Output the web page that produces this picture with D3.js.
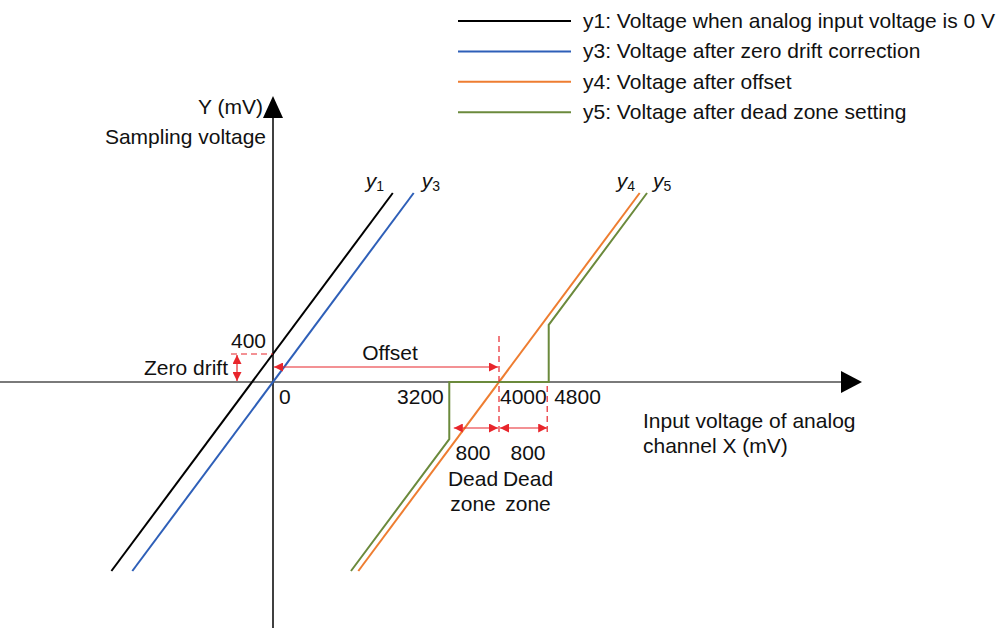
<!DOCTYPE html>
<html><head><meta charset="utf-8">
<script src="https://cdn.jsdelivr.net/npm/d3@7"></script>
<style>body{margin:0;background:#fff}svg{display:block}text{font-family:"Liberation Sans",Arial,sans-serif;fill:#111}</style>
</head><body><svg id="c" width="1002" height="628"></svg>
<script>
// ---- data (mV) ----
const seriesNames = ["y1","y3","y4","y5"];
const legendLabels = [
  "y1: Voltage when analog input voltage is 0 V",
  "y3: Voltage after zero drift correction",
  "y4: Voltage after offset",
  "y5: Voltage after dead zone setting"
];
const colors = ["#000000","#2e5fb8","#ee7d31","#6b8a3c"];
const y1Points = [[-2860,-2700],[2120,2700]];
const y3Points = [[-2490,-2700],[2490,2700]];
const y4Points = [[1510,-2700],[6490,2700]];
const y5Points = [[1380,-2700],[3120,-815],[3120,0],[4880,0],[4880,815],[6620,2700]];
const xTicks = [3200,4000,4800];
const zeroDrift = 400;
const offsetValue = 4000;
const deadZone = 800;

const FS = 21;
const svg = d3.select("#c");
const x = d3.scaleLinear().domain([0,4000]).range([273,499]);
const y = d3.scaleLinear().domain([0,400]).range([382,354]);
const red = "#e8252b";

// markers
const defs = svg.append("defs");
defs.append("marker").attr("id","ar").attr("viewBox","0 0 10 10").attr("refX",10).attr("refY",5)
  .attr("markerWidth",9).attr("markerHeight",9).attr("markerUnits","userSpaceOnUse").attr("orient","auto-start-reverse")
  .append("path").attr("d","M0,0L10,5L0,10Z").attr("fill",red);

// axes
svg.append("line").attr("x1",0).attr("x2",845).attr("y1",y(0)).attr("y2",y(0)).attr("stroke","#7a7a7a").attr("stroke-width",2);
svg.append("path").attr("d",`M841,${y(0)-11}L862,${y(0)}L841,${y(0)+11}Z`).attr("fill","#000");
svg.append("line").attr("x1",x(0)).attr("x2",x(0)).attr("y1",628).attr("y2",112).attr("stroke","#000").attr("stroke-width",1.5);
svg.append("path").attr("d",`M${x(0)-10},118L${x(0)},96L${x(0)+10},118Z`).attr("fill","#000");

// series lines
const line = d3.line().x(d=>x(d[0])).y(d=>y(d[1]));
const all = [y1Points,y3Points,y4Points,y5Points];
all.forEach((pts,i)=>{
  svg.append("path").attr("d",line(pts)).attr("fill","none").attr("stroke",colors[i]).attr("stroke-width",2);
});

// series labels
const lblDx = [-27,8,-23,6];
all.forEach((pts,i)=>{
  const p = pts[pts.length-1];
  const t = svg.append("text").attr("x",x(p[0])+lblDx[i]).attr("y",y(p[1])-5).attr("font-size",FS);
  t.append("tspan").attr("font-style","italic").text("y");
  t.append("tspan").attr("font-size",14).attr("dy",3).text(seriesNames[i].slice(1));
});

// legend
legendLabels.forEach((l,i)=>{
  const ly = 21 + i*30.4;
  svg.append("line").attr("x1",458).attr("x2",571).attr("y1",ly).attr("y2",ly).attr("stroke",colors[i]).attr("stroke-width",2);
  svg.append("text").attr("x",583).attr("y",ly+7).attr("font-size",FS).text(l);
});

// axis labels
svg.append("text").attr("x",263).attr("y",114).attr("text-anchor","end").attr("font-size",FS).text("Y (mV)");
svg.append("text").attr("x",266).attr("y",144).attr("text-anchor","end").attr("font-size",FS).text("Sampling voltage");
svg.append("text").attr("x",643).attr("y",428).attr("font-size",FS).text("Input voltage of analog");
svg.append("text").attr("x",643).attr("y",453).attr("font-size",FS).text("channel X (mV)");

// tick labels
svg.append("text").attr("x",x(0)-7).attr("y",y(zeroDrift)-6).attr("text-anchor","end").attr("font-size",FS).text(zeroDrift);
svg.append("text").attr("x",x(0)+6).attr("y",404).attr("font-size",FS).text("0");
const tickDx = [-10,1,10], tickAnchor = ["end","start","start"];
xTicks.forEach((t,i)=>{
  svg.append("text").attr("x",x(t)+tickDx[i]).attr("y",404).attr("text-anchor",tickAnchor[i]).attr("font-size",FS).text(t);
});

// zero drift annotation
svg.append("line").attr("x1",231).attr("x2",x(0)).attr("y1",y(zeroDrift)).attr("y2",y(zeroDrift)).attr("stroke",red).attr("stroke-width",1.2).attr("stroke-dasharray","6,4");
svg.append("line").attr("x1",237).attr("x2",237).attr("y1",y(zeroDrift)+1).attr("y2",y(0)-1).attr("stroke",red).attr("stroke-width",1.2)
  .attr("marker-start","url(#ar)").attr("marker-end","url(#ar)");
svg.append("text").attr("x",228).attr("y",375).attr("text-anchor","end").attr("font-size",FS).text("Zero drift");

// offset annotation
svg.append("line").attr("x1",x(offsetValue)).attr("x2",x(offsetValue)).attr("y1",336).attr("y2",434).attr("stroke",red).attr("stroke-width",1.2).attr("stroke-dasharray","6,4");
svg.append("line").attr("x1",x(0)+1).attr("x2",x(offsetValue)-1).attr("y1",367).attr("y2",367).attr("stroke",red).attr("stroke-width",1.2)
  .attr("marker-start","url(#ar)").attr("marker-end","url(#ar)");
svg.append("text").attr("x",390).attr("y",360).attr("text-anchor","middle").attr("font-size",FS).text("Offset");

// dead zone annotation
const dzR = x(offsetValue+deadZone)+3, dzL = x(offsetValue-deadZone);
svg.append("line").attr("x1",dzR).attr("x2",dzR).attr("y1",386).attr("y2",434).attr("stroke",red).attr("stroke-width",1.2).attr("stroke-dasharray","6,4");
svg.append("line").attr("x1",dzL).attr("x2",x(offsetValue)-1).attr("y1",428).attr("y2",428).attr("stroke",red).attr("stroke-width",1.2)
  .attr("marker-start","url(#ar)").attr("marker-end","url(#ar)");
svg.append("line").attr("x1",x(offsetValue)+1).attr("x2",dzR).attr("y1",428).attr("y2",428).attr("stroke",red).attr("stroke-width",1.2)
  .attr("marker-start","url(#ar)").attr("marker-end","url(#ar)");
[473, 528].forEach(cx=>{
  svg.append("text").attr("x",cx).attr("y",460).attr("text-anchor","middle").attr("font-size",FS).text(deadZone);
  svg.append("text").attr("x",cx).attr("y",486).attr("text-anchor","middle").attr("font-size",FS).text("Dead");
  svg.append("text").attr("x",cx).attr("y",511).attr("text-anchor","middle").attr("font-size",FS).text("zone");
});
</script></body></html>
